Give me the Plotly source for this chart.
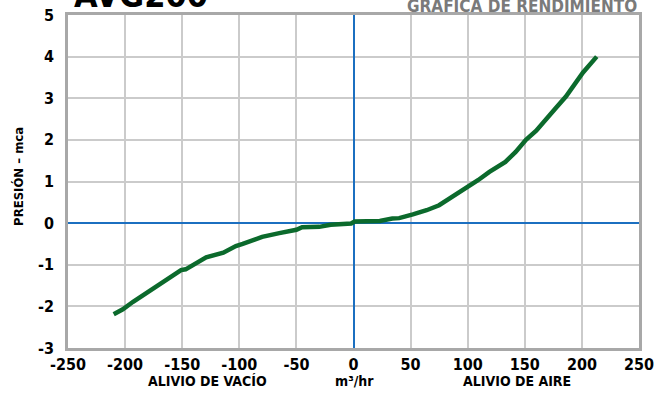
import plotly.graph_objects as go

# caudal (m3/hr) and presion (mca)
caudal = [-210, -202, -193, -181, -170, -158, -151, -147, -139, -129, -114, -103, -97, -88,
          -80, -65, -50, -45, -30, -20, -10, -2,
          1, 10, 23, 34, 40, 52, 64, 75, 84, 93, 101, 109, 119, 133, 142, 151,
          160, 170, 177, 186, 193, 201, 213]
presion = [-2.19, -2.07, -1.89, -1.67, -1.47, -1.27, -1.13, -1.11, -0.97, -0.82, -0.71, -0.55, -0.50, -0.41,
           -0.33, -0.24, -0.16, -0.10, -0.09, -0.04, -0.02, -0.01,
           0.04, 0.04, 0.05, 0.11, 0.12, 0.21, 0.31, 0.43, 0.59, 0.73, 0.87, 1.03, 1.23, 1.47, 1.71, 2.0,
           2.22, 2.52, 2.76, 3.04, 3.33, 3.62, 4.0]

x_ticks = [-250, -200, -150, -100, -50, 0, 50, 100, 150, 200, 250]
y_ticks = [-3, -2, -1, 0, 1, 2, 3, 4, 5]

font_fam = "DejaVu Sans Condensed, DejaVu Sans, sans-serif"
tick_font = dict(family = font_fam, size = 16, color = "black", weight = "bold")

fig = go.Figure()

fig.add_trace(go.Scatter(x = caudal, y = presion, mode = "lines",
                         line = dict(color = "#0b6a2c", width = 4.5), hoverinfo = "skip"))

fig.update_xaxes(range = [-250, 250], tickvals = x_ticks, ticktext = [str(v) for v in x_ticks],
                 showgrid = True, gridcolor = "#cbcbcb", gridwidth = 1.5,
                 zeroline = True, zerolinecolor = "#1b6fc0", zerolinewidth = 2,
                 showline = True, linecolor = "#a8a8a8", linewidth = 2.5, mirror = True,
                 ticks = "", automargin = False, ticklabelstandoff = 0,
                 ticklabeloverflow = "allow", tickfont = tick_font)
fig.update_yaxes(range = [-3, 5], tickvals = y_ticks, ticktext = [str(v) for v in y_ticks],
                 showgrid = True, gridcolor = "#cbcbcb", gridwidth = 1.5,
                 zeroline = True, zerolinecolor = "#1b6fc0", zerolinewidth = 2,
                 showline = True, linecolor = "#a8a8a8", linewidth = 2.5, mirror = True,
                 ticks = "", automargin = False, ticklabelstandoff = 8,
                 ticklabeloverflow = "allow", tickfont = tick_font)

annot_font = dict(family = font_fam, size = 14, color = "black", weight = "bold")

fig.add_annotation(x = -128, y = -0.1, xref = "x", yref = "paper", yanchor = "middle",
                   text = "ALIVIO DE VACÍO", showarrow = False, font = annot_font)
fig.add_annotation(x = 1, y = -0.1, xref = "x", yref = "paper", yanchor = "middle",
                   text = "m³/hr", showarrow = False, font = annot_font)
fig.add_annotation(x = 143, y = -0.1, xref = "x", yref = "paper", yanchor = "middle",
                   text = "ALIVIO DE AIRE", showarrow = False, font = annot_font)
fig.add_annotation(x = -0.088, y = 0.516, xref = "paper", yref = "paper", xanchor = "center",
                   text = "PRESIÓN – mca", textangle = -90, showarrow = False,
                   font = dict(family = font_fam, size = 13, color = "black", weight = "bold"))
# title pieces, partly cut off at the top of the page
fig.add_annotation(x = 0.007, y = 1, xref = "paper", yref = "paper", xanchor = "left", yanchor = "bottom",
                   text = "AVG200", showarrow = False, yshift = -2,
                   font = dict(family = font_fam, size = 34, color = "black", weight = "bold"))
fig.add_annotation(x = 1, y = 1, xref = "paper", yref = "paper", xanchor = "right", yanchor = "bottom",
                   text = "GRÁFICA DE RENDIMIENTO", showarrow = False, yshift = -3,
                   font = dict(family = font_fam, size = 17, color = "#7a7a7a", weight = "bold"))

fig.update_layout(width = 654, height = 394, margin = dict(l = 68, r = 15, t = 15, b = 46),
                  plot_bgcolor = "white", paper_bgcolor = "white", showlegend = False)

fig.write_html("out.html", config = {"displayModeBar": False},
               post_script = "document.body.style.margin = '0';")
